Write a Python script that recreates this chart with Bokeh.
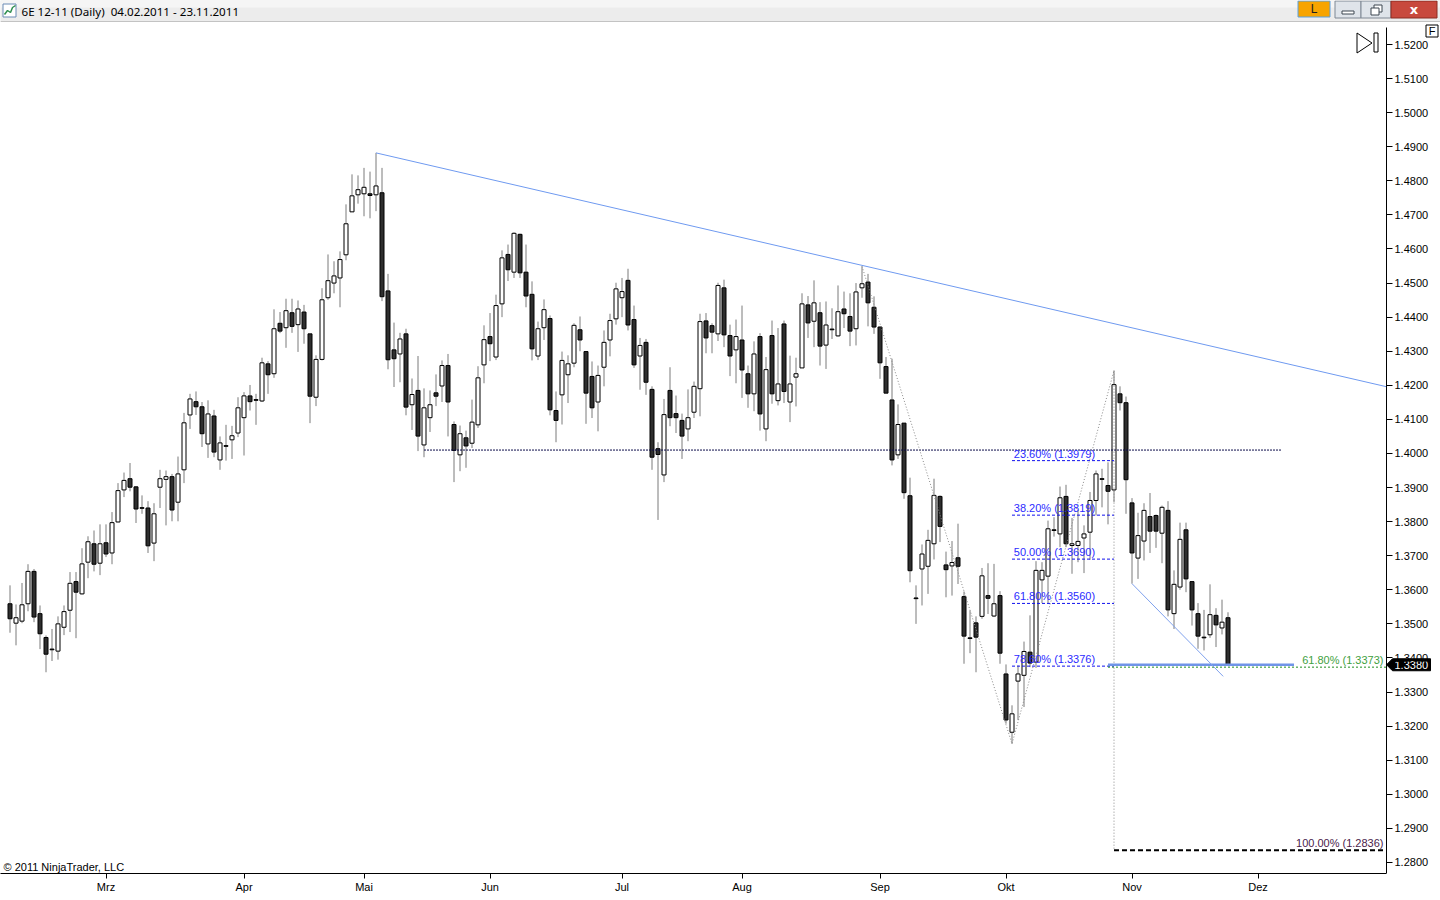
from bokeh.plotting import figure
from bokeh.models import Range1d, FixedTicker, PrintfTickFormatter, Label, ColumnDataSource
from bokeh.layouts import column
from bokeh.embed import file_html
from bokeh.resources import INLINE
from bokeh.core.properties import value

# ---------------- data (6E 12-11 daily, 04.02.2011 - 23.11.2011) ----------------
opens = [1.3559, 1.3502, 1.3508, 1.3559, 1.3654, 1.3530, 1.3460, 1.3426, 1.3420, 1.3490,
         1.3540, 1.3624, 1.3588, 1.3681, 1.3735, 1.3678, 1.3738, 1.3708, 1.3799, 1.3893,
         1.3926, 1.3902, 1.3841, 1.3840, 1.3737, 1.3901, 1.3924, 1.3932, 1.3857, 1.3952,
         1.4113, 1.4152, 1.4137, 1.4028, 1.4110, 1.3981, 1.4023, 1.4040, 1.4060, 1.4105,
         1.4169, 1.4158, 1.4154, 1.4263, 1.4234, 1.4382, 1.4369, 1.4413, 1.4378, 1.4415,
         1.4351, 1.4165, 1.4276, 1.4457, 1.4500, 1.4515, 1.4583, 1.4709, 1.4759, 1.4762,
         1.4762, 1.4759, 1.4765, 1.4477, 1.4304, 1.4292, 1.4351, 1.4143, 1.4185, 1.4025,
         1.4105, 1.4178, 1.4198, 1.4258, 1.4085, 1.3996, 1.4046, 1.4030, 1.4084, 1.4260,
         1.4343, 1.4283, 1.4439, 1.4584, 1.4532, 1.4643, 1.4532, 1.4467, 1.4286, 1.4369,
         1.4396, 1.4126, 1.4172, 1.4231, 1.4265, 1.4363, 1.4299, 1.4226, 1.4151, 1.4253,
         1.4333, 1.4395, 1.4457, 1.4508, 1.4393, 1.4286, 1.4326, 1.4188, 1.4014, 1.3937,
         1.4185, 1.4117, 1.4097, 1.4072, 1.4121, 1.4190, 1.4389, 1.4375, 1.4351, 1.4486,
         1.4346, 1.4304, 1.4333, 1.4234, 1.4175, 1.4343, 1.4072, 1.4346, 1.4155, 1.4380,
         1.4151, 1.4224, 1.4251, 1.4436, 1.4388, 1.4413, 1.4318, 1.4365, 1.4345, 1.4424,
         1.4402, 1.4366, 1.4486, 1.4503, 1.4429, 1.4371, 1.4255, 1.4157, 1.3996, 1.4089,
         1.3876, 1.3576, 1.3661, 1.3669, 1.3735, 1.3874, 1.3673, 1.3670, 1.3694, 1.3580,
         1.3459, 1.3503, 1.3522, 1.3583, 1.3523, 1.3583, 1.3353, 1.3182, 1.3332, 1.3349,
         1.3417, 1.3388, 1.3629, 1.3640, 1.3776, 1.3764, 1.3874, 1.3730, 1.3730, 1.3752,
         1.3769, 1.3862, 1.3926, 1.3906, 1.3893, 1.4175, 1.4149, 1.3855, 1.3693, 1.3743,
         1.3815, 1.3818, 1.3766, 1.3833, 1.3530, 1.3608, 1.3776, 1.3624, 1.3530, 1.3461,
         1.3468, 1.3525, 1.3488, 1.3518]
highs = [1.3613, 1.3557, 1.3620, 1.3675, 1.3661, 1.3554, 1.3466, 1.3485, 1.3522, 1.3554,
         1.3652, 1.3652, 1.3722, 1.3757, 1.3774, 1.3792, 1.3792, 1.3828, 1.3913, 1.3944,
         1.3972, 1.3904, 1.3877, 1.3860, 1.3854, 1.3952, 1.3950, 1.3940, 1.3991, 1.4119,
         1.4175, 1.4182, 1.4151, 1.4156, 1.4128, 1.4050, 1.4084, 1.4081, 1.4165, 1.4180,
         1.4201, 1.4175, 1.4281, 1.4271, 1.4423, 1.4415, 1.4454, 1.4454, 1.4449, 1.4436,
         1.4351, 1.4288, 1.4485, 1.4584, 1.4564, 1.4593, 1.4731, 1.4819, 1.4816, 1.4838,
         1.4827, 1.4882, 1.4838, 1.4527, 1.4384, 1.4354, 1.4366, 1.4220, 1.4286, 1.4191,
         1.4185, 1.4232, 1.4273, 1.4292, 1.4094, 1.4082, 1.4067, 1.4158, 1.4256, 1.4376,
         1.4412, 1.4466, 1.4596, 1.4613, 1.4649, 1.4645, 1.4613, 1.4505, 1.4387, 1.4452,
         1.4405, 1.4182, 1.4299, 1.4288, 1.4382, 1.4402, 1.4299, 1.4270, 1.4258, 1.4361,
         1.4410, 1.4501, 1.4515, 1.4542, 1.4434, 1.4339, 1.4336, 1.4197, 1.4033, 1.4160,
         1.4253, 1.4170, 1.4117, 1.4188, 1.4211, 1.4410, 1.4412, 1.4382, 1.4501, 1.4510,
         1.4378, 1.4393, 1.4434, 1.4258, 1.4329, 1.4353, 1.4283, 1.4390, 1.4368, 1.4390,
         1.4287, 1.4281, 1.4470, 1.4462, 1.4508, 1.4444, 1.4446, 1.4426, 1.4493, 1.4475,
         1.4470, 1.4500, 1.4549, 1.4527, 1.4461, 1.4373, 1.4283, 1.4278, 1.4144, 1.4089,
         1.3929, 1.3613, 1.3733, 1.3776, 1.3926, 1.3877, 1.3712, 1.3743, 1.3794, 1.3595,
         1.3539, 1.3522, 1.3664, 1.3678, 1.3676, 1.3596, 1.3381, 1.3261, 1.3378, 1.3448,
         1.3525, 1.3684, 1.3681, 1.3803, 1.3813, 1.3903, 1.3908, 1.3811, 1.3835, 1.3789,
         1.3887, 1.3950, 1.3955, 1.3974, 1.4243, 1.4197, 1.4167, 1.3869, 1.3826, 1.3854,
         1.3884, 1.3821, 1.3847, 1.3860, 1.3657, 1.3797, 1.3797, 1.3624, 1.3561, 1.3541,
         1.3616, 1.3546, 1.3571, 1.3534]
lows = [1.3474, 1.3437, 1.3502, 1.3537, 1.3505, 1.3426, 1.3358, 1.3391, 1.3395, 1.3467,
        1.3476, 1.3458, 1.3586, 1.3634, 1.3654, 1.3643, 1.3696, 1.3675, 1.3798, 1.3872,
        1.3889, 1.3796, 1.3823, 1.3708, 1.3684, 1.3840, 1.3789, 1.3801, 1.3801, 1.3913,
        1.4072, 1.4113, 1.4019, 1.3987, 1.3989, 1.3952, 1.3979, 1.3984, 1.4048, 1.3994,
        1.4126, 1.4084, 1.4151, 1.4175, 1.4222, 1.4353, 1.4310, 1.4354, 1.4298, 1.4322,
        1.4089, 1.4139, 1.4273, 1.4451, 1.4470, 1.4429, 1.4567, 1.4709, 1.4733, 1.4696,
        1.4690, 1.4711, 1.4447, 1.4247, 1.4195, 1.4209, 1.4112, 1.4069, 1.4007, 1.3989,
        1.4063, 1.4139, 1.4151, 1.4050, 1.3916, 1.3948, 1.3958, 1.4016, 1.4075, 1.4206,
        1.4271, 1.4274, 1.4400, 1.4506, 1.4515, 1.4515, 1.4429, 1.4273, 1.4274, 1.4333,
        1.4112, 1.4033, 1.4085, 1.4148, 1.4253, 1.4300, 1.4087, 1.4104, 1.4065, 1.4197,
        1.4285, 1.4378, 1.4400, 1.4361, 1.4251, 1.4187, 1.4172, 1.3952, 1.3805, 1.3916,
        1.4080, 1.4060, 1.3984, 1.4036, 1.4104, 1.4109, 1.4294, 1.4294, 1.4330, 1.4312,
        1.4227, 1.4206, 1.4163, 1.4134, 1.4124, 1.4067, 1.4036, 1.4146, 1.4141, 1.4148,
        1.4092, 1.4138, 1.4251, 1.4339, 1.4312, 1.4258, 1.4248, 1.4336, 1.4343, 1.4368,
        1.4315, 1.4317, 1.4457, 1.4373, 1.4351, 1.4219, 1.4177, 1.3965, 1.3984, 1.3867,
        1.3622, 1.3500, 1.3554, 1.3588, 1.3689, 1.3740, 1.3578, 1.3583, 1.3617, 1.3383,
        1.3414, 1.3358, 1.3515, 1.3529, 1.3520, 1.3383, 1.3207, 1.3148, 1.3218, 1.3256,
        1.3373, 1.3371, 1.3561, 1.3561, 1.3756, 1.3725, 1.3725, 1.3647, 1.3681, 1.3649,
        1.3688, 1.3818, 1.3842, 1.3792, 1.3857, 1.4126, 1.3823, 1.3618, 1.3632, 1.3686,
        1.3708, 1.3723, 1.3678, 1.3522, 1.3485, 1.3600, 1.3593, 1.3495, 1.3427, 1.3422,
        1.3459, 1.3432, 1.3469, 1.3380]
closes = [1.3515, 1.3518, 1.3556, 1.3654, 1.3520, 1.3471, 1.3411, 1.3424, 1.3500, 1.3536,
          1.3619, 1.3593, 1.3676, 1.3741, 1.3675, 1.3735, 1.3705, 1.3797, 1.3891, 1.3921,
          1.3901, 1.3837, 1.3839, 1.3729, 1.3823, 1.3926, 1.3932, 1.3834, 1.3940, 1.4090,
          1.4160, 1.4137, 1.4058, 1.4116, 1.4004, 1.4031, 1.4021, 1.4052, 1.4134, 1.4169,
          1.4152, 1.4156, 1.4266, 1.4231, 1.4366, 1.4359, 1.4419, 1.4373, 1.4424, 1.4366,
          1.4168, 1.4276, 1.4451, 1.4507, 1.4521, 1.4569, 1.4674, 1.4756, 1.4774, 1.4781,
          1.4757, 1.4785, 1.4460, 1.4275, 1.4278, 1.4336, 1.4136, 1.4173, 1.4051, 1.4134,
          1.4143, 1.4168, 1.4258, 1.4151, 1.4009, 1.4058, 1.4022, 1.4092, 1.4222, 1.4334,
          1.4322, 1.4434, 1.4574, 1.4539, 1.4646, 1.4530, 1.4462, 1.4307, 1.4366, 1.4422,
          1.4128, 1.4097, 1.4273, 1.4263, 1.4376, 1.4333, 1.4177, 1.4134, 1.4229, 1.4326,
          1.4390, 1.4483, 1.4475, 1.4377, 1.4260, 1.4317, 1.4209, 1.3989, 1.3997, 1.4114,
          1.4105, 1.4105, 1.4051, 1.4105, 1.4197, 1.4387, 1.4339, 1.4356, 1.4493, 1.4348,
          1.4286, 1.4343, 1.4245, 1.4175, 1.4292, 1.4116, 1.4246, 1.4175, 1.4204, 1.4182,
          1.4204, 1.4234, 1.4439, 1.4383, 1.4442, 1.4315, 1.4377, 1.4363, 1.4416, 1.4410,
          1.4359, 1.4474, 1.4498, 1.4442, 1.4371, 1.4266, 1.4177, 1.3981, 1.4085, 1.3885,
          1.3656, 1.3574, 1.3705, 1.3745, 1.3877, 1.3786, 1.3659, 1.3680, 1.3669, 1.3464,
          1.3457, 1.3461, 1.3641, 1.3575, 1.3559, 1.3414, 1.3218, 1.3236, 1.3353, 1.3419,
          1.3385, 1.3657, 1.3657, 1.3779, 1.3774, 1.3870, 1.3735, 1.3735, 1.3742, 1.3764,
          1.3862, 1.3940, 1.3924, 1.3889, 1.4202, 1.4149, 1.3923, 1.3708, 1.3759, 1.3833,
          1.3772, 1.3772, 1.3842, 1.3541, 1.3616, 1.3748, 1.3632, 1.3541, 1.3464, 1.3459,
          1.3527, 1.3497, 1.3505, 1.3380]

month_ticks = [16, 39, 59, 80, 102, 122, 145, 166, 187, 208]
month_labels = ["Mrz", "Apr", "Mai", "Jun", "Jul", "Aug", "Sep", "Okt", "Nov", "Dez"]
price_ticks = [1.28, 1.29, 1.30, 1.31, 1.32, 1.33, 1.34, 1.35, 1.36, 1.37, 1.38, 1.39, 1.40,
               1.41, 1.42, 1.43, 1.44, 1.45, 1.46, 1.47, 1.48, 1.49, 1.50, 1.51, 1.52]

# drawing objects (bar index, price)
trend_x = [61, 142]
trend_y = [1.4882, 1.4552]
support_x = [69, 212]
support_y = 1.4010
fib_x = [167, 184]
fib_pcts = [23.6, 38.2, 50.0, 61.8, 78.6]
fib_prices = [1.3979, 1.3819, 1.3690, 1.3560, 1.3376]
swing_x = [142, 167, 184]
swing_y = [1.4549, 1.3148, 1.4243]
ext_pcts = [61.8, 100.0]
ext_prices = [1.3373, 1.2836]
ext_start = [183, 184]
level_x = [183, 214]
level_y = 1.3380
down_x = [187, 202.2]
down_y = [1.3618, 1.3346]

title_text = "6E 12-11 (Daily)\u00a0 04.02.2011 - 23.11.2011"
copyright_text = "\u00a9 2011 NinjaTrader, LLC"

# ---------------- layout ----------------
W = 1440
TB_H = 22
MAIN_H = 876
AXIS_B = 25
FRAME_H = MAIN_H - AXIS_B
BAR_PX = 6.0
X0 = -9.5 / BAR_PX
X1 = X0 + W / BAR_PX
X_AXIS = X0 + 1386 / BAR_PX
Y0, Y1 = 1.27675, 1.52646
AX_FONT = "Liberation Sans"

def px_x(px):
    return X0 + px / BAR_PX

def px_y(py):
    return Y1 - py / FRAME_H * (Y1 - Y0)

PY = (Y1 - Y0) / FRAME_H  # price per pixel

# ---------------- title bar ----------------
tb = figure(width=W, height=TB_H, x_range=Range1d(0, W), y_range=Range1d(TB_H, 0),
            toolbar_location=None, output_backend="svg", x_axis_type=None, y_axis_type=None,
            min_border=0, outline_line_color=None,
            background_fill_color="#ececec", border_fill_color="#ececec")
tb.grid.visible = False
tb.quad(left=0, right=W, top=0, bottom=7, fill_color="#f5f5f5", line_color=None)
tb.quad(left=0, right=W, top=21, bottom=22, fill_color="#9a9a9a", line_color=None)
# icon
tb.quad(left=2.5, right=15.5, top=3.5, bottom=16.5, fill_color="white", line_color="#6b8bb5")
tb.line(x=[4, 7, 10, 12, 15], y=[14, 10, 12, 7, 5], line_color="#2f8f4f", line_width=1.5)
tb.text(x=[21], y=[10.5], text=[title_text], text_font=value("Noto Sans"),
        text_font_size="11.6px", text_baseline="middle", text_color="#000000")
# window buttons
tb.quad(left=1297.5, right=1329.5, top=0.5, bottom=16.5, fill_color="#f7a400", line_color="#5aa0e0")
tb.text(x=[1313.5], y=[8.5], text=["L"], text_font=value("Liberation Sans"), text_font_size="12px",
        text_align="center", text_baseline="middle", text_color="#202020")
tb.quad(left=1334.5, right=1360.5, top=0.5, bottom=17.5, fill_color="#dfe4ea", line_color="#7f8894")
tb.quad(left=1341.5, right=1353.5, top=10.5, bottom=13.5, fill_color="white", line_color="#3c4650")
tb.quad(left=1360.5, right=1390.5, top=0.5, bottom=17.5, fill_color="#dfe4ea", line_color="#7f8894")
tb.quad(left=1373.5, right=1381.5, top=4.5, bottom=11.5, fill_color="white", line_color="#3c4650")
tb.quad(left=1370.5, right=1378.5, top=7.5, bottom=14.5, fill_color="white", line_color="#3c4650")
tb.quad(left=1390.5, right=1436.5, top=0.5, bottom=17.5, fill_color="#c8493d", line_color="#8a2c22")
tb.text(x=[1413.5], y=[8.5], text=["x"], text_font=value("DejaVu Sans"), text_font_size="13px",
        text_font_style="bold", text_align="center", text_baseline="middle", text_color="white")

# ---------------- main chart ----------------
p = figure(width=W, height=MAIN_H, x_range=Range1d(X0, X1), y_range=Range1d(Y0, Y1),
           y_axis_location="right", toolbar_location=None, output_backend="svg",
           min_border_left=0, min_border_top=0, min_border_right=0, min_border_bottom=AXIS_B,
           outline_line_color=None, background_fill_color="white", border_fill_color="white")
p.grid.visible = False

idx = list(range(len(opens)))
up_i = [i for i in idx if closes[i] >= opens[i]]
dn_i = [i for i in idx if closes[i] < opens[i]]
up_src = ColumnDataSource(dict(x=up_i, top=[closes[i] for i in up_i], bottom=[opens[i] for i in up_i]))
dn_src = ColumnDataSource(dict(x=dn_i, top=[opens[i] for i in dn_i], bottom=[closes[i] for i in dn_i]))

p.segment(x0=idx, y0=lows, x1=idx, y1=highs, line_color="#7a7a7a", line_width=1)
p.vbar(x="x", top="top", bottom="bottom", width=4 / BAR_PX, source=up_src,
       fill_color="white", line_color="black", line_width=1)
p.vbar(x="x", top="top", bottom="bottom", width=4 / BAR_PX, source=dn_src,
       fill_color="#2e2e2e", line_color="black", line_width=1)

# trend line (ray to the price axis)
slope = (trend_y[1] - trend_y[0]) / (trend_x[1] - trend_x[0])
p.line(x=[trend_x[0], X_AXIS], y=[trend_y[0], trend_y[0] + slope * (X_AXIS - trend_x[0])],
       line_color="#6f9af0", line_width=1)

# horizontal support line
p.line(x=support_x, y=[support_y, support_y], line_color="#0c0c4a", line_width=1, line_dash="2 1")

# swing lines (dotted)
p.line(x=swing_x, y=swing_y, line_color="#8a8a8a", line_width=1, line_dash="1 2")
p.line(x=[swing_x[2], swing_x[2]], y=[swing_y[2], ext_prices[1]], line_color="#8a8a8a",
       line_width=1, line_dash="1 2")

# fibonacci retracement
p.segment(x0=[fib_x[0]] * len(fib_prices), y0=fib_prices, x1=[fib_x[1]] * len(fib_prices),
          y1=fib_prices, line_color="#1010ee", line_width=1, line_dash="3 2")
p.text(x=[fib_x[0] + 0.3] * len(fib_prices), y=fib_prices,
       text=["%.2f%% (%.4f)" % (a, b) for a, b in zip(fib_pcts, fib_prices)],
       text_font=value(AX_FONT), text_font_size="11px", text_color="#2b2bff",
       text_baseline="bottom", y_offset=-1)

# extension levels
p.line(x=[ext_start[0], X_AXIS], y=[ext_prices[0]] * 2, line_color="#1f8f1f", line_width=1, line_dash="2 2")
p.line(x=level_x, y=[level_y, level_y], line_color="#7094e8", line_width=2.5)
p.line(x=[ext_start[1], X_AXIS], y=[ext_prices[1]] * 2, line_color="black", line_width=2, line_dash="5 3")
p.text(x=[X_AXIS - 0.5] * 2, y=ext_prices,
       text=["%.2f%% (%.4f)" % (a, b) for a, b in zip(ext_pcts, ext_prices)],
       text_font=value(AX_FONT), text_font_size="11px", text_color=["#3f9f3f", "#4b1c4b"],
       text_align="right", text_baseline="bottom", y_offset=-1)

# falling line from the November high area
p.line(x=down_x, y=down_y, line_color="#7fa2ee", line_width=1)

# play icon / "F" box (top right)
p.patch(x=[px_x(1356.5), px_x(1356.5), px_x(1371.5)], y=[px_y(10.5), px_y(30.5), px_y(20.5)],
        fill_color="white", line_color="black", line_width=1)
p.quad(left=px_x(1373.5), right=px_x(1377.5), top=px_y(10.5), bottom=px_y(29.5),
       fill_color="white", line_color="black", line_width=1)
p.quad(left=px_x(1425.5), right=px_x(1437.5), top=px_y(2.5), bottom=px_y(14.5),
       fill_color="white", line_color="black", line_width=1)
p.text(x=[px_x(1431.5)], y=[px_y(8.5)], text=["F"], text_font=value(AX_FONT),
       text_font_size="11px", text_align="center", text_baseline="middle", text_color="black")

# last price marker on the price axis
lc = closes[-1]
p.patch(x=[px_x(1386), px_x(1392), px_x(1430), px_x(1430), px_x(1392)],
        y=[lc, lc + 6 * PY, lc + 6 * PY, lc - 6 * PY, lc - 6 * PY],
        fill_color="black", line_color="black", line_width=1)
p.text(x=[px_x(1394)], y=[lc], text=["%.4f" % lc], text_font=value(AX_FONT),
       text_font_size="11px", text_baseline="middle", text_color="white")

# axes
p.xaxis.ticker = FixedTicker(ticks=month_ticks)
p.xaxis.major_label_overrides = {t: l for t, l in zip(month_ticks, month_labels)}
p.xaxis.bounds = (X0, X_AXIS)
p.xaxis.minor_tick_line_color = None
p.xaxis.major_tick_out = 5
p.xaxis.major_tick_in = 0
p.xaxis.major_label_standoff = 2
p.xaxis.axis_line_color = "black"
p.xaxis.major_tick_line_color = "black"
p.xaxis.major_label_text_font = AX_FONT
p.xaxis.major_label_text_font_size = "11px"
p.xaxis.major_label_text_color = "black"

p.yaxis.fixed_location = X_AXIS
p.yaxis.bounds = (Y0, 1.525)
p.yaxis.ticker = FixedTicker(ticks=price_ticks)
p.yaxis.formatter = PrintfTickFormatter(format="%.4f")
p.yaxis.minor_tick_line_color = None
p.yaxis.major_tick_out = 6
p.yaxis.major_tick_in = 0
p.yaxis.major_label_standoff = 2
p.yaxis.axis_line_color = "black"
p.yaxis.major_tick_line_color = "black"
p.yaxis.major_label_text_font = AX_FONT
p.yaxis.major_label_text_font_size = "11px"
p.yaxis.major_label_text_color = "black"

p.add_layout(Label(x=3, y=1, x_units="screen", y_units="screen", text=copyright_text,
                   text_font=AX_FONT, text_font_size="11px", text_color="black",
                   text_baseline="bottom"))

# bottom window edge
bt = figure(width=W, height=2, toolbar_location=None, output_backend="svg", x_axis_type=None,
            y_axis_type=None, min_border=0, outline_line_color=None,
            background_fill_color="#8c8c8c", border_fill_color="#8c8c8c")
bt.grid.visible = False

layout = column(tb, p, bt, spacing=0)
open("out.html", "w").write(file_html(layout, INLINE))
